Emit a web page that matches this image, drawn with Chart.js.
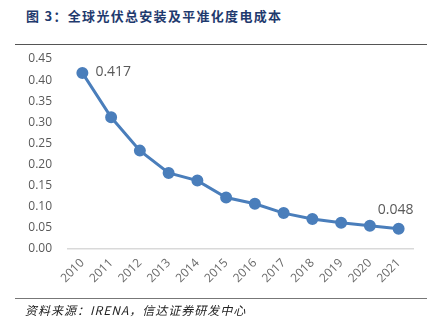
<!DOCTYPE html>
<html><head><meta charset="utf-8">
<script src="https://cdn.jsdelivr.net/npm/chart.js@4/dist/chart.umd.min.js"></script>
<style>
html,body{margin:0;padding:0;background:#fff;}
#wrap{position:relative;width:436px;height:325px;overflow:hidden;}
#title{position:absolute;left:26px;top:6px;font:bold 13px "Noto Sans CJK SC",sans-serif;color:#1f3a6e;white-space:nowrap;letter-spacing:1.3px;}
#topline{position:absolute;left:15px;top:44px;width:412px;height:0;border-top:1.5px solid #555;}
#botline{position:absolute;left:15px;top:298px;width:412px;height:0;border-top:1.5px solid #777;}
#source{position:absolute;left:25px;top:301px;font:italic 12px "Noto Sans CJK SC",serif;color:#222;white-space:nowrap;letter-spacing:1px;}
canvas{position:absolute;left:0;top:0;}
</style></head>
<body><div id="wrap">
<div id="title">图 3：全球光伏总安装及平准化度电成本</div>
<div id="topline"></div>
<canvas id="c" width="436" height="325"></canvas>
<div id="botline"></div>
<div id="source">资料来源：IRENA，信达证券研发中心</div>
</div>
<script>
const years = ["2010","2011","2012","2013","2014","2015","2016","2017","2018","2019","2020","2021"];
const lcoe = [0.417,0.312,0.233,0.180,0.162,0.122,0.107,0.085,0.071,0.062,0.055,0.048];
const labelIdx = [0, 11];
const labelText = ["0.417","0.048"];

const dataLabels = {
  id:'dataLabels',
  afterDatasetsDraw(chart){
    const ctx = chart.ctx;
    const meta = chart.getDatasetMeta(0);
    ctx.save();
    ctx.font = '14px "Open Sans", sans-serif';
    ctx.fillStyle = '#595959';
    ctx.textBaseline = 'middle';
    let p = meta.data[labelIdx[0]];
    ctx.textAlign = 'left';
    ctx.fillText(labelText[0], p.x + 13, p.y - 1);
    p = meta.data[labelIdx[1]];
    ctx.textAlign = 'center';
    ctx.fillText(labelText[1], p.x - 3, p.y - 19);
    ctx.restore();
  }
};

new Chart(document.getElementById('c'), {
  type:'line',
  data:{labels:years, datasets:[{
    data:lcoe,
    borderColor:'#4a7ebb',
    backgroundColor:'#4a7ebb',
    borderWidth:3,
    pointRadius:4.5,
    pointHoverRadius:4.5,
    tension:0
  }]},
  options:{
    responsive:false, animation:false,
    layout:{padding:{top:59,right:23,bottom:36,left:0}},
    plugins:{legend:{display:false},tooltip:{enabled:false},title:{display:false}},
    scales:{
      x:{
        offset:true,
        grid:{display:false, drawTicks:false},
        border:{display:true,color:'#d9d9d9',width:1.5},
        ticks:{color:'#6a6a6a',font:{size:12,family:'"Open Sans", sans-serif'},minRotation:45,maxRotation:45,padding:7},
        afterFit(s){s.height=40;}
      },
      y:{
        min:0,max:0.45,
        grid:{display:false, drawTicks:false},
        border:{display:false},
        ticks:{stepSize:0.05,color:'#595959',font:{size:12,family:'"Open Sans", sans-serif'},padding:16,
          callback:v=>Number(v).toFixed(2)},
        afterFit(s){s.width=68;}
      }
    }
  },
  plugins:[dataLabels]
});
</script>
</body></html>
